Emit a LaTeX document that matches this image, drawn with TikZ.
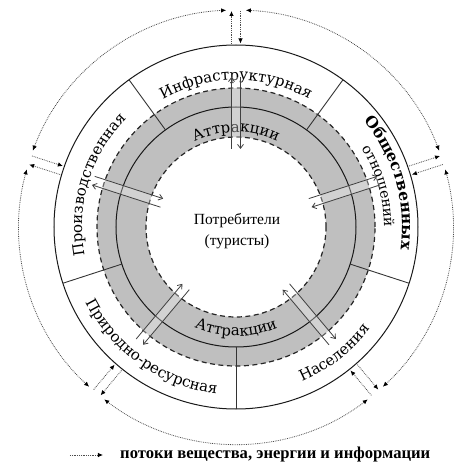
\documentclass[tikz,border=0pt]{standalone}
\usepackage{fontspec}
\setmainfont{Liberation Serif}
\newfontfamily\labfont{DejaVu Serif}
\usetikzlibrary{decorations.text,arrows.meta,calc}
\begin{document}
\begin{tikzpicture}[x=1pt,y=1pt,
  bandfill/.style={fill=black!25,even odd rule},
  dashcirc/.style={draw=black!85,line width=1.2pt,dash pattern=on 5pt off 3.5pt},
  solidcirc/.style={draw=black!90,line width=1pt},
  divider/.style={draw=black!80,line width=0.9pt},
  ringflow/.style={draw=black!70,line width=0.8pt,densely dotted},
  tipA/.style={-{Latex[length=5pt,width=4.5pt,color=black]}},
  innerflow/.style={draw=black!75,line width=0.8pt,-{Straight Barb[length=4pt,width=6pt]}},
  arclab/.style={decorate,decoration={text along path,text align=center,text={#1}}},
]
\useasboundingbox (-236,-244) rectangle (235,227);

% grey band and circles
\fill[bandfill] (0,0) circle[radius=139] (0,0) circle[radius=90];
\draw[dashcirc] (0,0) circle[radius=139];
\draw[dashcirc] (0,0) circle[radius=90];
\draw[solidcirc] (0,0) circle[radius=120];
\draw[solidcirc] (0,0) circle[radius=182];

% sector dividers
\foreach \a/\n in {126/a,54/b,-18/c,-90/d,-162/e} {
  \coordinate (dvo\n) at (\a:182);
  \coordinate (dvi\n) at (\a:120);
  \draw[divider] (dvo\n) -- (dvi\n);
}

% labels along arcs
\path[arclab={|\labfont\fontsize{15}{15}\selectfont|Инфраструктурная}]
  (160:147) arc[start angle=160,end angle=20,radius=147];
\path[arclab={|\labfont\fontsize{15}{15}\selectfont|Аттракции}]
  (160:95) arc[start angle=160,end angle=20,radius=95];
\path[arclab={|\labfont\fontsize{15}{15}\selectfont|Производственная}]
  (233:154) arc[start angle=233,end angle=93,radius=154];
\path[arclab={|\labfont\bfseries\fontsize{15.5}{15}\selectfont|Общественных}]
  (86:166) arc[start angle=86,end angle=-54,radius=166];
\path[arclab={|\labfont\fontsize{14}{14}\selectfont|отношений}]
  (86:148) arc[start angle=86,end angle=-54,radius=148];
\path[arclab={|\labfont\fontsize{15}{15}\selectfont|Населения}]
  (-122:168) arc[start angle=-122,end angle=18,radius=168];
\path[arclab={|\labfont\fontsize{15}{15}\selectfont|Природно-ресурсная}]
  (165:168) arc[start angle=165,end angle=305,radius=168];
\path[arclab={|\labfont\fontsize{15}{15}\selectfont|Аттракции}]
  (200:109) arc[start angle=200,end angle=340,radius=109];

% flows between sectors and attractions / consumers
\foreach \a/\n in {90/t,18/r,-50/br,-130/bl,162/l} {
  \pgfmathsetmacro\ap{\a+90}
  \pgfmathsetmacro\am{\a-90}
  \coordinate (fa\n) at ($(\a:78)+(\ap:4.5)$);
  \coordinate (fb\n) at ($(\a:150)+(\ap:4.5)$);
  \coordinate (fc\n) at ($(\a:150)+(\am:4.5)$);
  \coordinate (fd\n) at ($(\a:78)+(\am:4.5)$);
  \fill[white,opacity=0.3] (fa\n) -- (fb\n) -- (fc\n) -- (fd\n) -- cycle;
  \draw[innerflow] (fa\n) -- (fb\n);
  \draw[innerflow] (fc\n) -- (fd\n);
  % outer flows
  \coordinate (ga\n) at ($(\a:183.5)+(\ap:4.5)$);
  \coordinate (gb\n) at ($(\a:216)+(\ap:4.5)$);
  \coordinate (gc\n) at ($(\a:216)+(\am:4.5)$);
  \coordinate (gd\n) at ($(\a:183.5)+(\am:4.5)$);
  \draw[ringflow,tipA] (ga\n) -- (gb\n);
  \draw[ringflow,tipA] (gc\n) -- (gd\n);
}

% outer dotted ring arcs
\foreach \s/\e/\n in {-130/-50/1,-50/18/2,18/90/3,90/162/4,162/230/5} {
  \pgfmathsetmacro\ss{\s+2.6}
  \pgfmathsetmacro\ee{\e-2.6}
  \coordinate (ds\n) at (\ss:217);
  \draw[ringflow,{Latex[length=5pt,width=4.5pt,color=black]}-{Latex[length=5pt,width=4.5pt,color=black]}]
    (ds\n) arc[start angle=\ss,end angle=\ee,radius=217];
}

% centre
\node[align=center,font=\fontsize{15.5}{21}\selectfont] (cons) at (1,-4) {Потребители\\(туристы)};

% legend
\coordinate (la) at (-166,-228);
\coordinate (lb) at (-133,-228);
\draw[ringflow,tipA] (la) -- (lb);
\node[anchor=west,font=\bfseries\fontsize{16.6}{17}\selectfont,inner sep=0pt] (leg) at (-116,-228) {потоки вещества, энергии и информации};
\end{tikzpicture}
\end{document}
